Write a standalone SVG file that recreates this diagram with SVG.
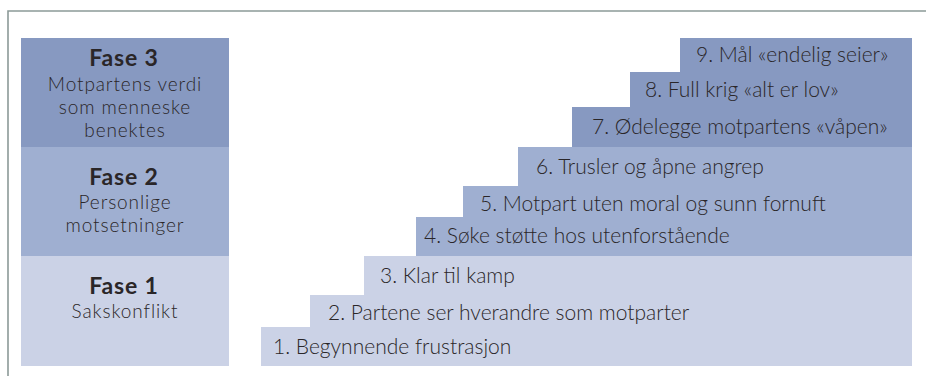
<svg xmlns="http://www.w3.org/2000/svg" width="926" height="376" viewBox="0 0 926 376">
<style>
.p3{fill:#8799c1}.p2{fill:#9fafd1}.p1{fill:#cbd2e6}
text{font-family:Lato,"Open Sans","Liberation Sans",sans-serif;fill:#2a2628}
.h{font-weight:700;font-size:23px;letter-spacing:0.8px;text-anchor:middle}
.s{font-weight:300;font-size:19px;letter-spacing:0.9px;text-anchor:middle}
.t{font-weight:300;font-size:21px}
.frame{fill:none;stroke:#8c9a98;stroke-width:1.6}
</style>
<rect width="926" height="376" fill="#fff"/>
<path class="frame" d="M8 376V11H926"/>
<g id="fase3"><rect class="p3" x="21" y="38" width="208" height="109"/>
<text class="h" x="124" y="66">Fase 3</text>
<text class="s" x="125" y="91">Motpartens verdi</text>
<text class="s" x="125" y="114">som menneske</text>
<text class="s" x="125" y="137">benektes</text></g>
<g id="fase2"><rect class="p2" x="21" y="147" width="208" height="109"/>
<text class="h" x="124" y="185">Fase 2</text>
<text class="s" x="125" y="209">Personlige</text>
<text class="s" x="125" y="232">motsetninger</text></g>
<g id="fase1"><rect class="p1" x="21" y="256" width="208" height="110"/>
<text class="h" x="124" y="294">Fase 1</text>
<text class="s" x="125" y="318">Sakskonflikt</text></g>
<g id="step1"><rect class="p1" x="261" y="327" width="651" height="39"/><text class="t" x="273" y="354">1. Begynnende frustrasjon</text></g>
<g id="step2"><rect class="p1" x="310" y="295" width="602" height="32"/><text class="t" x="328" y="320">2. Partene ser hverandre som motparter</text></g>
<g id="step3"><rect class="p1" x="364" y="256" width="548" height="39"/><text class="t" x="380" y="283">3. Klar til kamp</text></g>
<g id="step4"><rect class="p2" x="416" y="217" width="496" height="39"/><text class="t" x="424" y="243">4. Søke støtte hos utenforstående</text></g>
<g id="step5"><rect class="p2" x="463" y="186" width="449" height="31"/><text class="t" x="480" y="211">5. Motpart uten moral og sunn fornuft</text></g>
<g id="step6"><rect class="p2" x="518" y="147" width="394" height="39"/><text class="t" x="536" y="174">6. Trusler og åpne angrep</text></g>
<g id="step7"><rect class="p3" x="572" y="107" width="340" height="40"/><text class="t" x="592" y="134">7. Ødelegge motpartens «våpen»</text></g>
<g id="step8"><rect class="p3" x="630" y="72" width="282" height="35"/><text class="t" x="645" y="97">8. Full krig «alt er lov»</text></g>
<g id="step9"><rect class="p3" x="680" y="38" width="232" height="34"/><text class="t" x="696" y="62">9. Mål «endelig seier»</text></g>
</svg>
